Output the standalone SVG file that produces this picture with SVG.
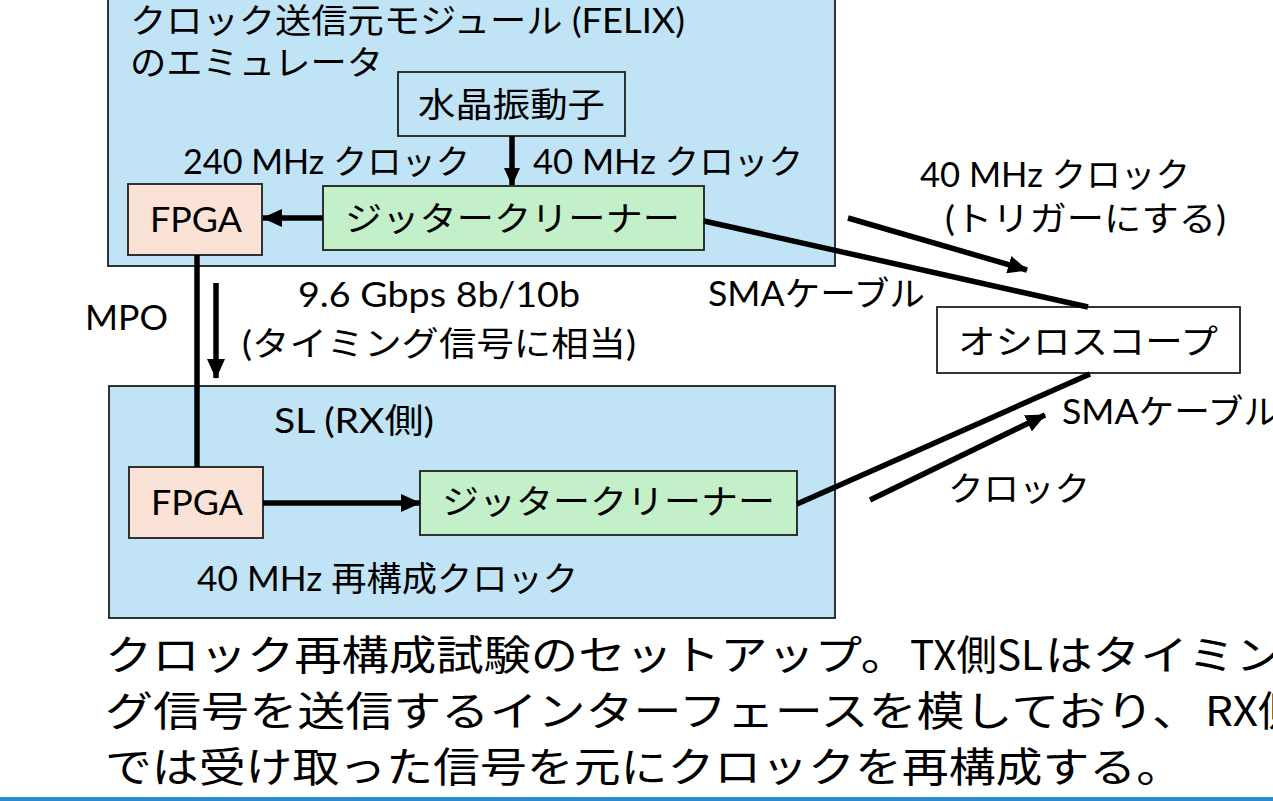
<svg xmlns="http://www.w3.org/2000/svg" width="1273" height="801" viewBox="0 0 1273 801">
<style>
.box{stroke:#1e1e1e;stroke-width:1.8}
.blue{fill:#c0e4f5}
.fpga{fill:#fbe2d6}
.jc{fill:#c3f0c8}
.white{fill:#ffffff}
.plain{fill:none}
text{font-family:"Lato","Noto Sans CJK JP",sans-serif;fill:#000;font-size:34px}
.cap{font-family:"Noto Sans CJK JP",sans-serif;font-size:41px}
.ln{stroke:#000;fill:none;stroke-width:5.5}
</style>
<defs>
<marker id="ah" markerUnits="userSpaceOnUse" markerWidth="20" markerHeight="18" viewBox="0 0 20 18" refX="19" refY="9" orient="auto">
<path d="M0,0 L20,9 L0,18 Z" fill="#000"/>
</marker>
<marker id="ahs" markerUnits="userSpaceOnUse" markerWidth="18" markerHeight="16" viewBox="0 0 18 16" refX="17" refY="8" orient="auto">
<path d="M0,0 L18,8 L0,16 Z" fill="#000"/>
</marker>
</defs>

<g id="tx-module">
<rect class="box blue" x="108" y="-3" width="727" height="269"/>
<text x="130" y="33" textLength="555" lengthAdjust="spacingAndGlyphs">クロック送信元モジュール (FELIX)</text>
<text x="130" y="75" textLength="253" lengthAdjust="spacingAndGlyphs">のエミュレータ</text>
</g>
<g id="crystal">
<rect class="box plain" x="398" y="72" width="227" height="64"/>
<text x="418" y="117" textLength="187" lengthAdjust="spacingAndGlyphs">水晶振動子</text>
</g>
<g id="fpga-tx">
<rect class="box fpga" x="128" y="184" width="134" height="71"/>
<text x="150" y="232" font-size="37" textLength="92" lengthAdjust="spacingAndGlyphs">FPGA</text>
</g>
<g id="jc-tx">
<rect class="box jc" x="323" y="186" width="381" height="64"/>
<text x="345" y="231" textLength="335" lengthAdjust="spacingAndGlyphs">ジッタークリーナー</text>
</g>

<g id="rx-module">
<rect class="box blue" x="109" y="386" width="726" height="232"/>
<text x="274" y="433" textLength="160" lengthAdjust="spacingAndGlyphs">SL (RX側)</text>
<text x="197" y="591" textLength="381" lengthAdjust="spacingAndGlyphs">40 MHz 再構成クロック</text>
</g>
<g id="fpga-rx">
<rect class="box fpga" x="129" y="467" width="134" height="71"/>
<text x="151" y="515" font-size="37" textLength="92" lengthAdjust="spacingAndGlyphs">FPGA</text>
</g>
<g id="jc-rx">
<rect class="box jc" x="420" y="471" width="377" height="64"/>
<text x="442" y="514" textLength="333" lengthAdjust="spacingAndGlyphs">ジッタークリーナー</text>
</g>

<g id="oscilloscope">
<rect class="box white" x="937" y="307" width="303" height="66"/>
<text x="958" y="354" textLength="260" lengthAdjust="spacingAndGlyphs">オシロスコープ</text>
</g>

<g id="connectors">
<line class="ln" x1="512" y1="136" x2="512" y2="185" stroke-width="3.5" marker-end="url(#ahs)"/>
<line class="ln" x1="323" y1="218" x2="263" y2="218" marker-end="url(#ah)"/>
<line class="ln" x1="197" y1="255" x2="197" y2="467"/>
<line class="ln" x1="216" y1="283" x2="216" y2="378" stroke-width="4" marker-end="url(#ah)"/>
<line class="ln" x1="263" y1="503" x2="420" y2="503" marker-end="url(#ah)"/>
<line class="ln" x1="704" y1="221" x2="1088" y2="307"/>
<line class="ln" x1="848" y1="218" x2="1027" y2="270" marker-end="url(#ah)"/>
<line class="ln" x1="797" y1="504" x2="1090" y2="374"/>
<line class="ln" x1="870" y1="500" x2="1045" y2="415" marker-end="url(#ah)"/>
</g>

<g id="labels">
<text x="183" y="174" textLength="287" lengthAdjust="spacingAndGlyphs">240 MHz クロック</text>
<text x="533" y="174" textLength="270" lengthAdjust="spacingAndGlyphs">40 MHz クロック</text>
<text x="920" y="187" textLength="270" lengthAdjust="spacingAndGlyphs">40 MHz クロック</text>
<text x="945" y="231" textLength="281" lengthAdjust="spacingAndGlyphs">(トリガーにする)</text>
<text x="708" y="306" font-size="31" textLength="217" lengthAdjust="spacingAndGlyphs">SMAケーブル</text>
<text x="85" y="330" textLength="83" lengthAdjust="spacingAndGlyphs">MPO</text>
<text x="298" y="307" textLength="282" lengthAdjust="spacingAndGlyphs">9.6 Gbps 8b/10b</text>
<text x="242" y="356" textLength="394" lengthAdjust="spacingAndGlyphs">(タイミング信号に相当)</text>
<text x="1062" y="424" font-size="31" textLength="217" lengthAdjust="spacingAndGlyphs">SMAケーブル</text>
<text x="948" y="501" textLength="142" lengthAdjust="spacingAndGlyphs">クロック</text>
</g>

<g id="caption">
<text class="cap" x="105" y="670"><tspan textLength="803" lengthAdjust="spacingAndGlyphs">クロック再構成試験のセットアップ。</tspan><tspan x="910" textLength="133" lengthAdjust="spacingAndGlyphs">TX側SL</tspan><tspan x="1045" textLength="238" lengthAdjust="spacingAndGlyphs">はタイミン</tspan></text>
<text class="cap" x="105" y="726"><tspan textLength="1095" lengthAdjust="spacingAndGlyphs">グ信号を送信するインターフェースを模しており、</tspan><tspan x="1205" textLength="97" lengthAdjust="spacingAndGlyphs">RX側</tspan></text>
<text class="cap" x="105" y="782" textLength="1078" lengthAdjust="spacingAndGlyphs">では受け取った信号を元にクロックを再構成する。</text>
</g>
<rect x="0" y="797" width="1273" height="4" fill="#2a8bd0"/>
</svg>
